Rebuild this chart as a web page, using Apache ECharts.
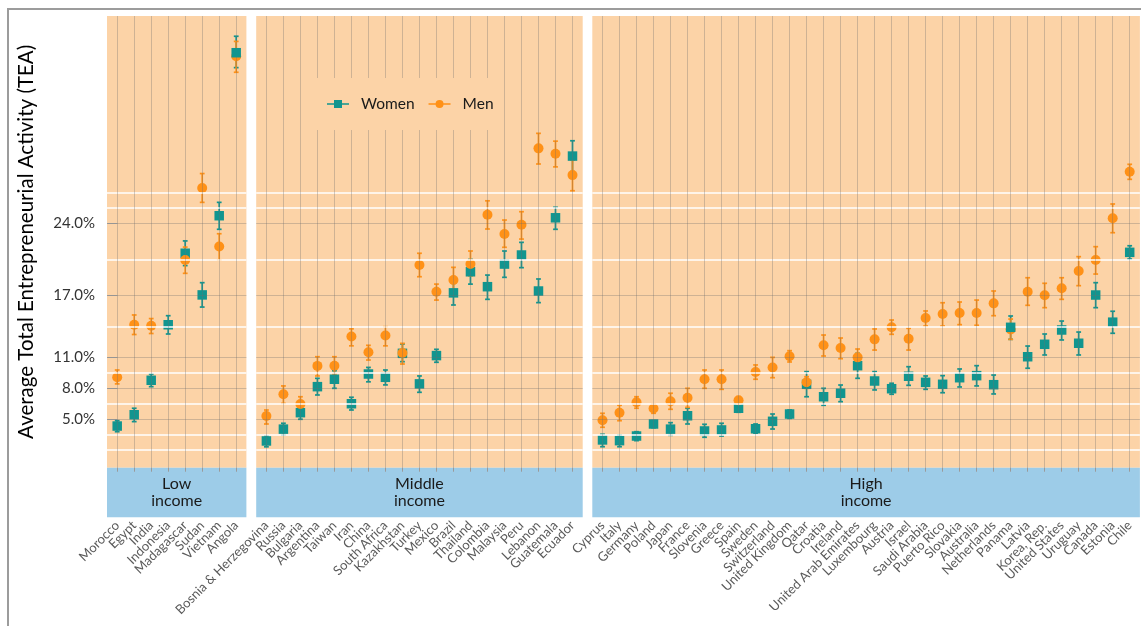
<!DOCTYPE html>
<html>
<head>
<meta charset="utf-8">
<title>Average Total Entrepreneurial Activity (TEA) by income group</title>
<script src="https://cdn.jsdelivr.net/npm/echarts@6/dist/echarts.min.js"></script>
<style>
  html, body { margin: 0; padding: 0; background: #ffffff; }
  #chart { width: 1141px; height: 626px; }
</style>
</head>
<body>
<div id="chart"></div>
<script>
// ---- data: TEA rate (%) with confidence interval, [estimate, lower, upper] ----
const lowCountries = ['Morocco', 'Egypt', 'India', 'Indonesia', 'Madagascar', 'Sudan', 'Vietnam', 'Angola'];
const lowWomen = [[4.3, 3.75, 4.82], [5.4, 4.73, 6.03], [8.75, 8.13, 9.36], [14.15, 13.25, 15.03],
                  [21.1, 19.9, 22.3], [17.05, 15.87, 18.24], [24.75, 23.43, 26.05], [40.6, 39.15, 42.2]];
const lowMen = [[9.05, 8.4, 9.75], [14.15, 13.2, 15.1], [14.05, 13.3, 14.75], null,
                [20.45, 19.15, 21.7], [27.45, 26.05, 28.85], [21.75, 20.45, 23.0], [40.25, 38.7, 41.7]];

const midCountries = ['Bosnia & Herzegovina', 'Russia', 'Bulgaria', 'Argentina', 'Taiwan', 'Iran', 'China',
                      'South Africa', 'Kazakhstan', 'Turkey', 'Mexico', 'Brazil', 'Thailand', 'Colombia',
                      'Malaysia', 'Peru', 'Lebanon', 'Guatemala', 'Ecuador'];
const midWomen = [[2.85, 2.28, 3.35], [4.0, 3.43, 4.57], [5.6, 4.96, 6.18], [8.13, 7.32, 8.94], [8.85, 7.97, 9.68],
                  [6.47, 5.86, 7.1], [9.36, 8.6, 10.0], [9.04, 8.3, 9.75], [11.37, 10.56, 12.28], [8.4, 7.58, 9.17],
                  [11.15, 10.5, 11.76], [17.25, 16.07, 18.18], [19.3, 18.1, 20.5], [17.85, 16.62, 18.98],
                  [20.05, 18.76, 21.32], [20.93, 19.7, 22.16], [17.43, 16.3, 18.6], [24.55, 23.43, 25.57],
                  [30.55, 29.03, 32.04]];
const midMen = [[5.28, 4.5, 5.86], [7.4, 6.5, 8.2], [6.45, 5.8, 7.15], [10.15, 9.17, 11.04], [10.17, 9.36, 11.04],
                [13.0, 12.1, 13.75], [11.47, 10.72, 12.15], [13.1, 12.1, 13.96], [11.4, 10.33, 12.34],
                [19.96, 18.82, 21.1], [17.36, 16.55, 18.1], [18.5, 17.36, 19.73], [20.05, 18.9, 21.32],
                [24.85, 23.46, 26.2], [22.97, 21.68, 24.33], [23.88, 22.48, 25.14], [31.3, 29.78, 32.76],
                [30.78, 29.5, 32.0], [28.7, 27.18, 30.16]];

const highCountries = ['Cyprus', 'Italy', 'Germany', 'Poland', 'Japan', 'France', 'Slovenia', 'Greece', 'Spain',
                       'Sweden', 'Switzerland', 'United Kingdom', 'Qatar', 'Croatia', 'Ireland',
                       'United Arab Emirates', 'Luxembourg', 'Austria', 'Israel', 'Saudi Arabia', 'Puerto Rico',
                       'Slovakia', 'Australia', 'Netherlands', 'Panama', 'Latvia', 'Korea, Rep.',
                       'United States', 'Uruguay', 'Canada', 'Estonia', 'Chile'];
const highWomen = [[2.95, 2.29, 3.5], [2.88, 2.29, 3.43], [3.33, 2.88, 3.75], [4.5, 4.14, 4.82], [4.0, 3.4, 4.63],
                   [5.3, 4.5, 6.03], [3.82, 3.21, 4.47], [3.92, 3.33, 4.57], [6.03, 5.64, 6.42], [4.04, 3.6, 4.5],
                   [4.76, 4.01, 5.47], [5.47, 5.05, 5.86], [8.36, 7.15, 9.59], [7.15, 6.32, 7.97],
                   [7.49, 6.67, 8.29], [10.17, 8.94, 11.37], [8.68, 7.81, 9.59], [7.93, 7.39, 8.46],
                   [9.14, 8.26, 10.07], [8.55, 7.87, 9.17], [8.36, 7.54, 9.2], [9.0, 8.1, 9.85],
                   [9.2, 8.2, 10.17], [8.32, 7.42, 9.26], [13.9, 12.73, 15.0], [11.04, 9.92, 12.08],
                   [12.25, 11.21, 13.25], [13.64, 12.67, 14.51], [12.35, 11.21, 13.44], [17.04, 15.81, 18.24],
                   [14.4, 13.32, 15.46], [21.19, 20.54, 21.83]];
const highMen = [[4.86, 4.18, 5.54], [5.6, 4.82, 6.32], [6.61, 6.03, 7.15], [6.0, 5.54, 6.45], [6.71, 5.93, 7.49],
                 [7.06, 6.12, 7.97], [8.85, 7.97, 9.75], [8.85, 7.87, 9.75], [6.8, 6.45, 7.15], [9.56, 8.85, 10.24],
                 [10.0, 9.0, 10.98], [11.08, 10.53, 11.63], [8.55, 7.97, 9.1], [12.15, 11.11, 13.15],
                 [11.89, 10.85, 12.86], [10.98, 10.4, 11.79], [12.73, 11.69, 13.74], [13.9, 13.22, 14.61],
                 [12.79, 11.69, 13.8], [14.8, 14.03, 15.49], [15.19, 14.03, 16.29], [15.29, 14.16, 16.36],
                 [15.29, 14.1, 16.55], [16.23, 15.03, 17.43], [13.7, 12.73, 14.7], [17.36, 16.04, 18.72],
                 [17.01, 15.81, 18.18], [17.69, 16.62, 18.72], [19.37, 17.95, 20.77], [20.44, 19.08, 21.74],
                 [24.5, 23.1, 25.89], [29.03, 28.29, 29.75]];

// countries whose women's marker is drawn over the men's marker
const womenOnTop = ['Angola', 'Panama'];

const incomeGroups = ['Low\nincome', 'Middle\nincome', 'High\nincome'];

// y scale: labelled breaks and the lighter in-between rules
const yBreaks = [5, 8, 11, 17, 24];
const yRules = [2, 3.5, 6.5, 9.5, 14, 20.5, 25.5, 27];
const yRange = [0.25, 44.17];

// ---- styling / layout ----
const FONT = 'Lato, "Open Sans", sans-serif';
const PANEL_BG = '#fcd3a7';
const STRIP_BG = '#9dcce8';
const WOMEN_COLOR = '#11958f';
const MEN_COLOR = '#ff9117';
const GRID_LINE = 'rgba(110, 110, 110, 0.32)';
const PANEL_TOP = 16;
const PANEL_H = 451.7;
const STRIP_H = 49.6;
const X_PAD = 0.6;   // empty room either side of the first / last country, in category units
const panelLayout = [
  { left: 107, width: 139.4 },
  { left: 256.2, width: 326.5 },
  { left: 592.3, width: 547.6 }
];

const panels = [
  { countries: lowCountries, women: lowWomen, men: lowMen },
  { countries: midCountries, women: midWomen, men: midMen },
  { countries: highCountries, women: highWomen, men: highMen }
];

function errorBarRenderer(color) {
  return function (params, api) {
    const x = api.value(0);
    const top = api.coord([x, api.value(3)]);
    const bot = api.coord([x, api.value(2)]);
    const cap = 2.4;
    const style = { stroke: color, lineWidth: 1.7 };
    return {
      type: 'group',
      children: [
        { type: 'line', shape: { x1: top[0], y1: top[1], x2: bot[0], y2: bot[1] }, style: style },
        { type: 'line', shape: { x1: top[0] - cap, y1: top[1], x2: top[0] + cap, y2: top[1] }, style: style },
        { type: 'line', shape: { x1: bot[0] - cap, y1: bot[1], x2: bot[0] + cap, y2: bot[1] }, style: style }
      ]
    };
  };
}

function rows(values, countries, filterFn) {
  const out = [];
  values.forEach(function (r, i) {
    if (r && (!filterFn || filterFn(countries[i]))) out.push([i, r[0], r[1], r[2]]);
  });
  return out;
}

const grid = [], xAxis = [], yAxis = [], series = [], graphic = [];
const labelGrid = [], labelX = [], labelY = [];

panels.forEach(function (p, gi) {
  const n = p.countries.length;
  const idx = p.countries.map(function (_, i) { return i; });
  const lay = panelLayout[gi];
  const step = lay.width / (n - 1 + 2 * X_PAD);

  // plotting panel (value x axis, so the side padding can be 0.6 of a step)
  grid.push({
    left: lay.left, width: lay.width, top: PANEL_TOP, height: PANEL_H,
    show: true, backgroundColor: PANEL_BG, borderWidth: 0
  });
  xAxis.push({
    gridIndex: gi, type: 'value', min: -X_PAD, max: n - 1 + X_PAD, show: false,
    splitLine: { show: false }
  });
  const y = {
    gridIndex: gi, type: 'value', min: yRange[0], max: yRange[1],
    axisLine: { show: false }, splitLine: { show: false },
    axisTick: { show: false }, axisLabel: { show: false }
  };
  if (gi === 0) {
    y.name = 'Average Total Entrepreneurial Activity (TEA)';
    y.nameLocation = 'middle';
    y.nameGap = 70;
    y.nameTextStyle = { fontFamily: FONT, fontSize: 20.5, color: '#000000' };
    y.axisTick = { show: true, customValues: yBreaks, length: 10, lineStyle: { color: '#a8a8a8' } };
    y.axisLabel = {
      show: true, customValues: yBreaks, margin: 12,
      formatter: function (v) { return v.toFixed(1) + '%'; },
      fontFamily: FONT, fontSize: 15, color: '#333333'
    };
  }
  yAxis.push(y);

  // panel rules: white in-between rules, grey rules at breaks and categories
  const ruleData = [];
  yRules.forEach(function (v) { ruleData.push({ yAxis: v, lineStyle: { color: '#ffffff', width: 1.6, type: 'solid' } }); });
  yBreaks.forEach(function (v) { ruleData.push({ yAxis: v, lineStyle: { color: GRID_LINE, width: 1, type: 'solid' } }); });
  idx.forEach(function (i) { ruleData.push({ xAxis: i, lineStyle: { color: GRID_LINE, width: 1, type: 'solid' } }); });
  series.push({
    type: 'line', xAxisIndex: gi, yAxisIndex: gi, data: [], z: 1, silent: true,
    markLine: { silent: true, symbol: 'none', label: { show: false }, animation: false, data: ruleData }
  });

  const womenRows = rows(p.women, p.countries);
  const menRows = rows(p.men, p.countries);
  const womenTopRows = rows(p.women, p.countries, function (c) { return womenOnTop.indexOf(c) >= 0; });
  const womenBaseRows = rows(p.women, p.countries, function (c) { return womenOnTop.indexOf(c) < 0; });

  series.push({
    name: 'Women', type: 'custom', xAxisIndex: gi, yAxisIndex: gi, z: 2,
    renderItem: errorBarRenderer(WOMEN_COLOR), itemStyle: { color: WOMEN_COLOR },
    encode: { x: 0, y: [2, 3] }, data: womenRows, silent: true
  });
  series.push({
    name: 'Men', type: 'custom', xAxisIndex: gi, yAxisIndex: gi, z: 2,
    renderItem: errorBarRenderer(MEN_COLOR), itemStyle: { color: MEN_COLOR },
    encode: { x: 0, y: [2, 3] }, data: menRows, silent: true
  });
  series.push({
    name: 'Women', type: 'scatter', xAxisIndex: gi, yAxisIndex: gi, z: 3,
    symbol: 'rect', symbolSize: 9.5, itemStyle: { color: WOMEN_COLOR, opacity: 1 },
    data: womenBaseRows.map(function (r) { return [r[0], r[1]]; })
  });
  series.push({
    name: 'Men', type: 'scatter', xAxisIndex: gi, yAxisIndex: gi, z: 4,
    symbol: 'circle', symbolSize: 10, itemStyle: { color: MEN_COLOR, opacity: 1 },
    data: menRows.map(function (r) { return [r[0], r[1]]; })
  });
  series.push({
    name: 'Women', type: 'scatter', xAxisIndex: gi, yAxisIndex: gi, z: 5,
    symbol: 'rect', symbolSize: 9.5, itemStyle: { color: WOMEN_COLOR, opacity: 1 },
    data: womenTopRows.map(function (r) { return [r[0], r[1]]; })
  });

  // country axis: a category axis whose bands line up with the panel's steps
  const li = panels.length + gi;
  labelGrid.push({
    left: lay.left + (X_PAD - 0.5) * step, width: n * step, top: PANEL_TOP, height: PANEL_H,
    show: false
  });
  labelX.push({
    gridIndex: li, type: 'category', data: p.countries, boundaryGap: true,
    position: 'bottom', offset: STRIP_H,
    axisLine: { show: false },
    axisTick: { show: true, alignWithLabel: true, interval: 0, length: 4, lineStyle: { color: '#9a9a9a' } },
    axisLabel: {
      interval: 0, rotate: 45, margin: 6,
      fontFamily: FONT, fontSize: 13, color: '#5a5a5a'
    },
    splitLine: { show: false }
  });
  labelY.push({ gridIndex: li, type: 'value', show: false, splitLine: { show: false } });

  // facet strip below each panel
  graphic.push({
    type: 'rect', silent: true,
    shape: { x: lay.left, y: PANEL_TOP + PANEL_H, width: lay.width, height: STRIP_H },
    style: { fill: STRIP_BG }
  });
  graphic.push({
    type: 'text', silent: true,
    x: lay.left + lay.width / 2, y: PANEL_TOP + PANEL_H + STRIP_H / 2,
    style: {
      text: incomeGroups[gi], fill: '#1a1a1a', font: '16px ' + FONT,
      align: 'center', verticalAlign: 'middle', lineHeight: 17
    }
  });
});

// outer frame
graphic.push({
  type: 'rect', silent: true,
  shape: { x: 8, y: 9, width: 1200, height: 700 },
  style: { fill: 'none', stroke: '#9c9c9c', lineWidth: 2 }
});

const chart = echarts.init(document.getElementById('chart'), null, { renderer: 'canvas' });
chart.setOption({
  animation: false,
  backgroundColor: '#ffffff',
  textStyle: { fontFamily: FONT },
  grid: grid.concat(labelGrid),
  xAxis: xAxis.concat(labelX),
  yAxis: yAxis.concat(labelY),
  legend: {
    data: [
      { name: 'Women', icon: 'path://M0,3.2 L22,3.2 L22,4.8 L0,4.8 Z M7,0 L15,0 L15,8 L7,8 Z' },
      { name: 'Men', icon: 'path://M0,3.2 L22,3.2 L22,4.8 L0,4.8 Z M7,4 A4,4 0 1,1 15,4 A4,4 0 1,1 7,4 Z' }
    ],
    left: 317, top: 78, padding: [18, 10, 18, 10],
    itemWidth: 22, itemHeight: 8, itemGap: 14,
    backgroundColor: PANEL_BG,
    textStyle: { fontFamily: FONT, fontSize: 15.5, color: '#1a1a1a', padding: [0, 0, 0, 7] },
    selectedMode: false, z: 10
  },
  series: series,
  graphic: graphic
});
</script>
</body>
</html>
